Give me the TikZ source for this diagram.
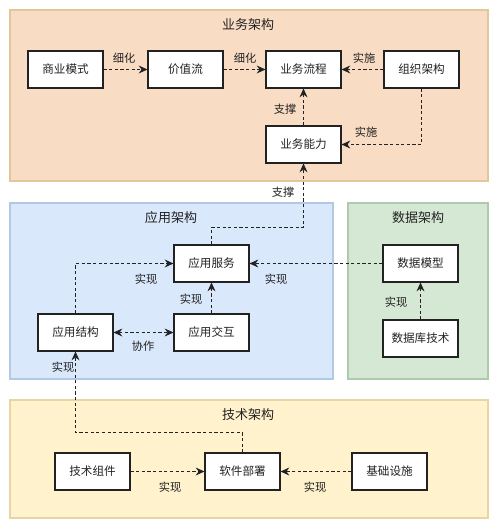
\documentclass[tikz,border=0pt]{standalone}
\usepackage{fontspec}
\setmainfont{Noto Sans CJK SC}
\usetikzlibrary{arrows.meta}
\definecolor{bizfill}{HTML}{F9DCC4}
\definecolor{bizline}{HTML}{E2C79A}
\definecolor{appfill}{HTML}{DAE8FC}
\definecolor{appline}{HTML}{B3C8E3}
\definecolor{datfill}{HTML}{D5E8D4}
\definecolor{datline}{HTML}{AFC9AC}
\definecolor{tecfill}{HTML}{FFF2CC}
\definecolor{tecline}{HTML}{E6D6A6}
\definecolor{ink}{HTML}{222222}
\begin{document}
\begin{tikzpicture}[x=0.02cm,y=-0.02cm,
  box/.style={draw=ink,fill=white,line width=0.6pt,minimum width=1.5cm,minimum height=0.74cm,inner sep=0pt,font=\fontsize{6.6}{7}\selectfont,text=ink},
  frametitle/.style={font=\fontsize{7.4}{8}\selectfont,text=ink},
  lbl/.style={font=\fontsize{6.4}{7}\selectfont,text=ink,inner sep=1pt},
  conn/.style={draw=ink,line width=0.55pt,dash pattern=on 1.8pt off 1.4pt,-{Stealth[length=5pt,width=4.5pt]}},
  conn2/.style={draw=ink,line width=0.55pt,dash pattern=on 1.8pt off 1.4pt,{Stealth[length=5pt,width=4.5pt]}-{Stealth[length=5pt,width=4.5pt]}}]
\useasboundingbox (0,0) rectangle (500,527);
\fill[white] (0,0) rectangle (500,527);
% frames
\draw[fill=bizfill,draw=bizline,line width=0.6pt] (10,10) rectangle (488,181);
\draw[fill=appfill,draw=appline,line width=0.6pt] (10,203) rectangle (333,379);
\draw[fill=datfill,draw=datline,line width=0.6pt] (348,203) rectangle (488,379);
\draw[fill=tecfill,draw=tecline,line width=0.6pt] (10,400) rectangle (488,518);
\node[frametitle] (tbiz) at (248,25) {业务架构};
\node[frametitle] (tapp) at (171,218) {应用架构};
\node[frametitle] (tdat) at (418,218) {数据架构};
\node[frametitle] (ttec) at (248,415) {技术架构};
% business nodes
\node[box] (sy) at (65.5,69.5) {商业模式};
\node[box] (jz) at (185.5,69.5) {价值流};
\node[box] (lc) at (303.5,69.5) {业务流程};
\node[box] (zz) at (421.5,69.5) {组织架构};
\node[box] (nl) at (303.5,144.5) {业务能力};
% application nodes
\node[box] (fw) at (211.5,263.5) {应用服务};
\node[box] (jg) at (75.5,332.5) {应用结构};
\node[box] (jh) at (211.5,332.5) {应用交互};
% data nodes
\node[box] (mx) at (420.5,263.5) {数据模型};
\node[box] (sk) at (420.5,338.5) {数据库技术};
% tech nodes
\node[box] (zj) at (92.5,471.5) {技术组件};
\node[box] (bs) at (242.5,471.5) {软件部署};
\node[box] (ss) at (389.5,471.5) {基础设施};
% connectors
\draw[conn] (sy) -- (jz);
\draw[conn] (jz) -- (lc);
\draw[conn] (zz) -- (lc);
\draw[conn] (nl) -- (lc);
\draw[conn] (zz.south) |- (nl.east);
\draw[conn] (fw.north) -- ++(0,-17) -| (nl.south);
\draw[conn] (jg.north) |- (fw.west);
\draw[conn] (jh) -- (fw);
\draw[conn2] (jg) -- (jh);
\draw[conn] (mx) -- (fw);
\draw[conn] (sk) -- (mx);
\draw[conn] (bs.north) -- ++(0,-20) -| (jg.south);
\draw[conn] (zj) -- (bs);
\draw[conn] (ss) -- (bs);
% labels
\node[lbl] (l1) at (124,58) {细化};
\node[lbl] (l2) at (245,58) {细化};
\node[lbl] (l3) at (364,58) {实施};
\node[lbl] (l4) at (285,109) {支撑};
\node[lbl] (l5) at (366,132) {实施};
\node[lbl] (l6) at (283,192) {支撑};
\node[lbl] (l7) at (146,279) {实现};
\node[lbl] (l8) at (276,279) {实现};
\node[lbl] (l9) at (191,299) {实现};
\node[lbl] (l10) at (143,346) {协作};
\node[lbl] (l11) at (396,302) {实现};
\node[lbl] (l12) at (63,367) {实现};
\node[lbl] (l13) at (170,487) {实现};
\node[lbl] (l14) at (315,487) {实现};
\end{tikzpicture}
\end{document}
